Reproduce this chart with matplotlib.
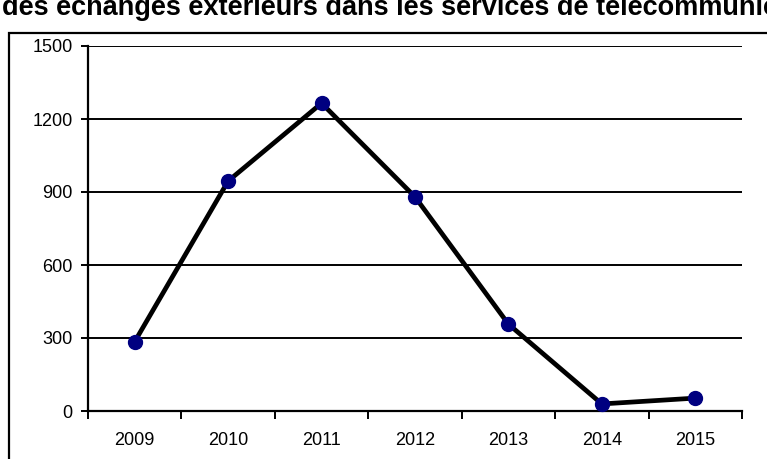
import numpy as np
import matplotlib.pyplot as plt
from matplotlib.patches import Rectangle

plt.rcParams['font.family'] = ['Liberation Sans', 'DejaVu Sans']

years = ['2009', '2010', '2011', '2012', '2013', '2014', '2015']
values = [285, 945, 1265, 880, 357, 29, 53]
yticks = [0, 300, 600, 900, 1200, 1500]
title = "des échanges extérieurs dans les services de télécommunications"

W, H = 767, 459
fig = plt.figure(figsize=(W / 100, H / 100), dpi=100)

# outer frame around the chart, running off the right and bottom edges
frame_top = 1 - 33 / H
frame = Rectangle((9 / W, -0.1), 1.2, frame_top + 0.1,
                  transform=fig.transFigure, fill=False, edgecolor='black',
                  linewidth=1.6, clip_on=False)
fig.patches.append(frame)

fig.text(2 / W, 1 - 15 / H, title, fontsize=19.5, fontweight='bold',
         ha='left', va='baseline')

ax = fig.add_axes([88 / W, 1 - 411 / H, (742 - 88) / W, (411 - 46) / H])
x = np.arange(len(years))

ax.set_ylim(0, 1500)
ax.set_xlim(-0.5, len(years) - 0.5)
ax.set_yticks(yticks)
ax.yaxis.grid(True, color='black', linewidth=1.4)
ax.set_axisbelow(True)

# category boundaries carry the tick marks, labels sit at the centres
ax.set_xticks(np.arange(-0.5, len(years)), labels=[])
ax.set_xticks(x, labels=years, minor=True)
ax.tick_params(axis='x', which='major', direction='out', length=5.5,
               width=1.4, color='black')
ax.tick_params(axis='x', which='minor', length=0, pad=15, labelsize=13)
ax.tick_params(axis='y', direction='out', length=5, width=1.4, pad=6,
               labelsize=13)

for side in ['top', 'right']:
    ax.spines[side].set_visible(False)
for side in ['left', 'bottom']:
    ax.spines[side].set_linewidth(1.6)

ax.plot(x, values, color='black', linewidth=3.4, zorder=3)
ax.plot(x, values, linestyle='none', marker='o', markersize=10,
        markerfacecolor='#000080', markeredgecolor='#000080', zorder=4,
        clip_on=False)

fig.savefig('out.png', dpi=100)
